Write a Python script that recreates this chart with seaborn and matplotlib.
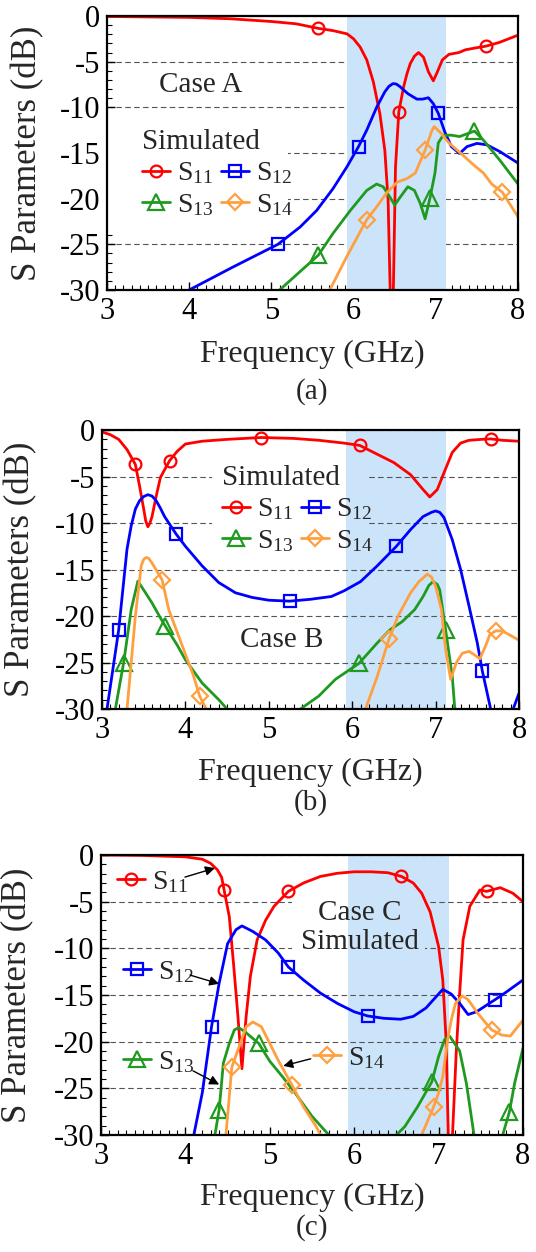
import numpy as np
import matplotlib
matplotlib.use("Agg")
import matplotlib.pyplot as plt
import seaborn as sns
from matplotlib.lines import Line2D
from matplotlib.patches import Rectangle
from matplotlib.legend import Legend
from matplotlib.ticker import MultipleLocator

sns.set_style("ticks")
plt.rcParams["font.family"] = ["Liberation Serif", "DejaVu Serif"]
plt.rcParams["mathtext.fontset"] = "custom"
plt.rcParams["mathtext.rm"] = "Liberation Serif"
plt.rcParams["mathtext.it"] = "Liberation Serif:italic"
plt.rcParams["axes.unicode_minus"] = False

# ---------------- data ----------------
x_ticks = [3, 4, 5, 6, 7, 8]
y_ticks = [-30, -25, -20, -15, -10, -5, 0]
band_ghz = [5.925, 7.125]
series_names = ["S$_{\\mathrm{11}}$", "S$_{\\mathrm{12}}$", "S$_{\\mathrm{13}}$", "S$_{\\mathrm{14}}$"]
panel_tags = ["(a)", "(b)", "(c)"]
case_texts = ["Case A", "Case B", "Case C\nSimulated"]

# Case A
a_s11_f = [3.0, 3.5, 4.0, 4.5, 5.0, 5.3, 5.57, 5.75, 5.92, 6.0, 6.08, 6.16, 6.24, 6.32, 6.38, 6.42, 6.45, 6.465, 6.48, 6.51, 6.55, 6.61, 6.65, 6.69, 6.74, 6.79, 6.85, 6.91, 6.97, 7.02, 7.08, 7.16, 7.28, 7.36, 7.48, 7.61, 7.77, 8.0]
a_s11_db = [-0.05, -0.1, -0.15, -0.3, -0.6, -0.85, -1.35, -1.6, -1.95, -2.5, -3.4, -4.8, -7.2, -10.7, -14.7, -20.2, -32, -45, -32, -16.5, -10.5, -7.7, -6.3, -5.2, -4.4, -4.0, -4.5, -6.1, -7.1, -6.1, -4.8, -4.2, -4.0, -3.7, -3.5, -3.3, -2.9, -2.1]
a_s11_mk = [5.57, 6.55, 7.61]

a_s12_f = [3.95, 4.0, 4.53, 5.08, 5.35, 5.55, 5.75, 5.92, 6.06, 6.16, 6.28, 6.38, 6.43, 6.48, 6.52, 6.56, 6.66, 6.77, 6.84, 6.91, 6.97, 7.03, 7.11, 7.19, 7.29, 7.38, 7.5, 7.62, 7.78, 8.0]
a_s12_db = [-32, -30, -27.5, -25.0, -23.1, -21.3, -18.9, -16.5, -14.3, -12.5, -10.0, -8.3, -7.7, -7.4, -7.45, -7.7, -8.5, -9.1, -9.1, -8.95, -9.6, -10.65, -12.7, -14.3, -15.05, -14.3, -13.95, -14.1, -14.85, -16.1]
a_s12_mk = [5.08, 6.06, 7.03]

a_s13_f = [5.05, 5.1, 5.57, 5.75, 5.96, 6.16, 6.28, 6.36, 6.44, 6.5, 6.57, 6.66, 6.74, 6.81, 6.87, 6.93, 6.99, 7.03, 7.09, 7.19, 7.29, 7.38, 7.47, 7.58, 7.78, 8.0]
a_s13_db = [-32, -30, -26.2, -23.8, -21.3, -19.1, -18.4, -18.7, -19.8, -20.7, -19.8, -18.7, -19.1, -20.5, -22.2, -19.9, -17.2, -13.9, -13.05, -13.05, -13.2, -12.9, -12.6, -13.6, -15.8, -18.4]
a_s13_mk = [5.57, 6.93, 7.47]

a_s14_f = [5.66, 5.71, 5.92, 6.16, 6.28, 6.4, 6.53, 6.65, 6.75, 6.87, 6.95, 6.98, 7.06, 7.16, 7.3, 7.46, 7.58, 7.68, 7.81, 8.0]
a_s14_db = [-32, -30, -26.3, -22.3, -20.9, -19.4, -18.2, -17.8, -17.2, -14.7, -12.6, -12.1, -12.8, -13.9, -15.0, -16.3, -17.2, -18.4, -19.3, -22.0]
a_s14_mk = [6.16, 6.87, 7.81]

# Case B
b_s11_f = [3.0, 3.1, 3.2, 3.3, 3.4, 3.45, 3.5, 3.525, 3.55, 3.575, 3.6, 3.65, 3.7, 3.81, 3.9, 4.0, 4.2, 4.5, 4.91, 5.3, 5.6, 5.9, 6.09, 6.3, 6.5, 6.7, 6.85, 6.93, 7.02, 7.1, 7.2, 7.3, 7.4, 7.55, 7.66, 7.8, 8.0]
b_s11_db = [-0.2, -0.5, -1.0, -2.1, -3.7, -6.0, -8.5, -9.8, -10.4, -10.0, -9.3, -7.1, -5.1, -3.3, -2.3, -1.5, -1.2, -1.0, -0.8, -0.9, -1.1, -1.4, -1.65, -2.6, -3.5, -4.8, -6.4, -7.2, -6.4, -4.6, -2.4, -1.4, -1.1, -1.0, -0.95, -1.1, -1.2]
b_s11_mk = [3.4, 3.81, 4.91, 6.09, 7.66]

b_s12_f = [3.02, 3.06, 3.2, 3.3, 3.35, 3.4, 3.45, 3.5, 3.55, 3.6, 3.65, 3.7, 3.75, 3.89, 4.0, 4.2, 4.4, 4.6, 4.8, 5.0, 5.25, 5.5, 5.75, 5.9, 6.1, 6.3, 6.53, 6.7, 6.85, 6.95, 7.0, 7.05, 7.1, 7.2, 7.3, 7.4, 7.5, 7.56, 7.66, 7.8, 7.93, 8.0]
b_s12_db = [-36, -30, -21.5, -12.8, -10.3, -8.5, -7.6, -7.15, -6.95, -7.1, -7.6, -8.4, -9.3, -11.2, -12.5, -14.6, -16.4, -17.5, -18.0, -18.3, -18.4, -18.2, -17.9, -17.3, -16.3, -14.6, -12.5, -10.7, -9.3, -8.85, -8.7, -8.85, -9.4, -11.8, -15.0, -18.9, -22.9, -25.9, -30, -36, -30, -28.3]
b_s12_mk = [3.2, 3.89, 5.25, 6.53, 7.56]

b_s13_f = [3.1, 3.16, 3.26, 3.35, 3.43, 3.5, 3.6, 3.7, 3.76, 3.9, 4.0, 4.2, 4.4, 4.5, 4.7, 5.2, 5.38, 5.6, 5.8, 6.08, 6.3, 6.45, 6.6, 6.75, 6.85, 6.92, 6.97, 7.02, 7.05, 7.12, 7.2, 7.23, 7.3]
b_s13_db = [-36, -30, -25.0, -19.3, -16.25, -17.2, -18.6, -20.2, -21.1, -23.1, -24.7, -27.2, -29.0, -30, -33, -33, -30, -28.6, -26.8, -25.1, -22.9, -21.5, -20.6, -19.3, -17.9, -16.7, -16.3, -16.6, -17.2, -21.5, -26.5, -30, -36]
b_s13_mk = [3.26, 3.76, 6.08, 7.12]

b_s14_f = [3.25, 3.3, 3.4, 3.47, 3.5, 3.53, 3.56, 3.6, 3.72, 3.8, 3.95, 4.1, 4.17, 4.25, 4.4, 6.0, 6.16, 6.3, 6.44, 6.55, 6.7, 6.8, 6.85, 6.9, 6.95, 7.0, 7.07, 7.12, 7.18, 7.25, 7.32, 7.4, 7.47, 7.53, 7.6, 7.65, 7.72, 7.8, 7.9, 8.0]
b_s14_db = [-36, -30, -20.0, -14.6, -13.9, -13.7, -13.8, -14.3, -16.1, -19.3, -22.9, -26.5, -28.6, -30, -34, -34, -30, -26.5, -22.5, -20.0, -17.5, -16.3, -15.9, -15.5, -15.8, -16.8, -19.3, -23.6, -26.8, -25.0, -24.0, -23.8, -24.2, -24.6, -23.2, -22.0, -21.6, -21.6, -22.1, -22.6]
b_s14_mk = [3.72, 4.17, 6.44, 7.72]

# Case C
c_s11_f = [3.0, 3.5, 4.0, 4.2, 4.3, 4.38, 4.43, 4.46, 4.52, 4.57, 4.62, 4.67, 4.72, 4.77, 4.85, 4.95, 5.05, 5.22, 5.4, 5.6, 5.8, 6.0, 6.2, 6.4, 6.56, 6.7, 6.8, 6.9, 7.0, 7.05, 7.09, 7.115, 7.14, 7.165, 7.21, 7.25, 7.29, 7.37, 7.49, 7.57, 7.73, 7.88, 8.0]
c_s11_db = [0.0, -0.05, -0.2, -0.45, -0.9, -1.6, -2.4, -3.8, -6.6, -11.6, -17.0, -22.9, -17.3, -13.0, -9.1, -7.0, -5.5, -3.9, -3.0, -2.3, -1.96, -1.8, -1.8, -1.9, -2.3, -3.0, -4.1, -6.1, -9.8, -13.4, -20.0, -30, -45, -30, -21.0, -14.8, -9.1, -5.5, -3.75, -3.9, -3.5, -4.1, -5.0]
c_s11_mk = [4.46, 5.22, 6.56, 7.57]

c_s12_f = [4.05, 4.1, 4.2, 4.31, 4.4, 4.5, 4.6, 4.67, 4.8, 4.95, 5.1, 5.22, 5.4, 5.6, 5.8, 6.0, 6.16, 6.35, 6.55, 6.7, 6.85, 6.95, 7.05, 7.15, 7.25, 7.35, 7.45, 7.55, 7.67, 7.8, 8.0]
c_s12_db = [-36, -30, -25.5, -18.4, -13.75, -9.5, -8.0, -7.6, -8.2, -9.1, -10.5, -12.0, -13.4, -14.8, -15.9, -16.8, -17.25, -17.5, -17.6, -17.3, -16.4, -15.4, -14.4, -14.9, -15.9, -17.1, -16.8, -16.2, -15.5, -14.7, -13.4]
c_s12_mk = [4.31, 5.22, 6.16, 7.67]

c_s13_f = [4.3, 4.35, 4.4, 4.45, 4.52, 4.58, 4.63, 4.7, 4.87, 5.0, 5.15, 5.3, 5.5, 5.7, 6.0, 6.5, 6.6, 6.75, 6.92, 7.0, 7.07, 7.13, 7.25, 7.33, 7.42, 7.55, 7.76, 7.84, 7.9, 8.0]
c_s13_db = [-36, -30, -27.3, -22.3, -20.2, -18.75, -18.5, -18.9, -20.2, -22.1, -23.75, -25.5, -28.0, -30, -35, -30, -29.1, -27.0, -24.3, -21.6, -19.8, -19.4, -21.0, -24.5, -30, -35, -30, -27.5, -24.5, -20.7]
c_s13_mk = [4.4, 4.87, 6.92, 7.84]

c_s14_f = [4.45, 4.48, 4.52, 4.55, 4.65, 4.72, 4.8, 4.9, 5.0, 5.1, 5.26, 5.4, 5.55, 5.6, 5.8, 6.6, 6.8, 6.94, 7.0, 7.05, 7.1, 7.15, 7.2, 7.28, 7.35, 7.45, 7.55, 7.63, 7.75, 7.85, 8.0]
c_s14_db = [-36, -30, -25.9, -22.75, -20.2, -18.4, -17.9, -18.4, -20.2, -22.0, -24.6, -27.0, -29.1, -30, -35, -35, -30, -27.0, -25.5, -23.75, -20.2, -17.7, -15.9, -15.1, -15.5, -16.8, -17.9, -18.75, -19.3, -19.4, -17.7]
c_s14_mk = [4.55, 5.26, 6.94, 7.63]

# ---------------- style ----------------
colors = ["#ff0000", "#0000ff", "#1f9a1f", "#ffa040"]
markers = ["o", "s", "^", "D"]
msizes = [8.5, 8, 11, 8.5]
band_color = "#cce4f9"
grid_color = "#555555"

fig = plt.figure(figsize=(5.36, 12.52), dpi=100)
axes_rects = [
    [0.1996, 0.7684, 0.7668, 0.2188],
    [0.1903, 0.4337, 0.7780, 0.2228],
    [0.1884, 0.0935, 0.7873, 0.2236],
]
panels = [
    [(a_s11_f, a_s11_db, a_s11_mk), (a_s12_f, a_s12_db, a_s12_mk), (a_s13_f, a_s13_db, a_s13_mk), (a_s14_f, a_s14_db, a_s14_mk)],
    [(b_s11_f, b_s11_db, b_s11_mk), (b_s12_f, b_s12_db, b_s12_mk), (b_s13_f, b_s13_db, b_s13_mk), (b_s14_f, b_s14_db, b_s14_mk)],
    [(c_s11_f, c_s11_db, c_s11_mk), (c_s12_f, c_s12_db, c_s12_mk), (c_s13_f, c_s13_db, c_s13_mk), (c_s14_f, c_s14_db, c_s14_mk)],
]
band_z = [0.7, 0.3, 0.3]
xlabel_y = [-0.237, -0.229, -0.225]
ylabel_x = [-0.192, -0.194, -0.197]
tag_y = [-0.372, -0.337, -0.332]
case_pos = [(0.229, 0.748), (0.432, 0.247), (0.614, 0.741)]
masks = [(0.0, 0.212, 0.44, 0.427), (0.264, 0.534, 0.376, 0.376), (0.453, 0.607, 0.315, 0.257)]


def proxy(i):
    return Line2D([], [], color=colors[i], lw=2.0, marker=markers[i], ms=msizes[i],
                  mfc="none", mec=colors[i], mew=1.6)


axes = []
for p in range(3):
    ax = fig.add_axes(axes_rects[p])
    axes.append(ax)
    ax.set_xlim(3, 8)
    ax.set_ylim(-30, 0)
    ax.set_axisbelow(True)
    ax.axvspan(band_ghz[0], band_ghz[1], color=band_color, lw=0, zorder=band_z[p])
    for i, (f, d, mk) in enumerate(panels[p]):
        f = np.asarray(f, float)
        d = np.asarray(d, float)
        idx = [int(np.argmin(np.abs(f - m))) for m in mk]
        sns.lineplot(x=f, y=d, ax=ax, color=colors[i], lw=2.0, marker=markers[i],
                     markevery=idx, ms=msizes[i], mfc="none", mec=colors[i], mew=1.6,
                     sort=False, estimator=None, legend=False, zorder=2)
    ax.set_xticks(x_ticks)
    ax.set_yticks(y_ticks)
    ax.xaxis.set_minor_locator(MultipleLocator(0.1))
    ax.yaxis.set_minor_locator(MultipleLocator(1))
    ax.tick_params(which="both", direction="in", top=False, right=False, labelsize=22, colors="black")
    ax.tick_params(which="major", length=6, width=1.0)
    ax.tick_params(which="minor", length=3.5, width=0.8)
    ax.tick_params(axis="x", pad=5)
    ax.tick_params(axis="y", pad=5)
    ax.yaxis.grid(True, which="major", color=grid_color, lw=0.8, ls=(0, (5, 3)))
    ax.xaxis.grid(False)
    for s in ax.spines.values():
        s.set_linewidth(1.6)
        s.set_color("black")
        s.set_visible(True)
    ax.set_xlabel("Frequency (GHz)", fontsize=23)
    ax.xaxis.label.set_va("center")
    ax.xaxis.set_label_coords(0.5, xlabel_y[p])
    ax.set_ylabel("S Parameters (dB)", fontsize=25)
    ax.yaxis.label.set_va("center")
    ax.yaxis.set_label_coords(ylabel_x[p], 0.5)
    ax.text(0.5, tag_y[p], panel_tags[p], transform=ax.transAxes, ha="center", va="center", fontsize=21)

    # white mask that hides grid lines behind labels (band shows through)
    mx, my, mw, mh = masks[p]
    m = Rectangle((mx, my), mw, mh, transform=ax.transAxes, fc="white", ec="none", zorder=1.0)
    ax.add_patch(m)
    sp = ax.axvspan(band_ghz[0], band_ghz[1], color=band_color, lw=0, zorder=1.1)
    sp.set_clip_path(m)

    cx, cy = case_pos[p]
    ax.text(cx, cy, case_texts[p], transform=ax.transAxes, ha="center", va="center",
            fontsize=21, linespacing=1.15, zorder=6)

leg_kw = dict(frameon=False, fontsize=20, title_fontsize=21, handlelength=1.0,
              handletextpad=0.25, columnspacing=0.3, labelspacing=0.2, borderpad=0,
              borderaxespad=0, loc="center left", alignment="left")

# Legends for panels a and b (2 columns with title)
order = [0, 2, 1, 3]
for p, anchor in [(0, (0.085, 0.425)), (1, (0.288, 0.716))]:
    ax = axes[p]
    leg = Legend(ax, [proxy(i) for i in order], [series_names[i] for i in order],
                 ncol=2, title="Simulated", bbox_to_anchor=anchor, **leg_kw)
    leg.set_zorder(7)
    ax.add_artist(leg)

# Panel c: individual labels with arrows
ax = axes[2]
c_label_pos = [(0.038, 0.904), (0.052, 0.582), (0.052, 0.261), (0.502, 0.275)]
c_arrow_from = [(0.199, 0.921), (0.211, 0.571), (0.218, 0.229), (0.497, 0.272)]
c_arrow_to = [(4.35, -1.4), (4.40, -13.8), (4.40, -24.6), (5.16, -22.6)]
for i in range(4):
    leg = Legend(ax, [proxy(i)], [series_names[i]], bbox_to_anchor=c_label_pos[i], **leg_kw)
    leg.set_zorder(7)
    ax.add_artist(leg)
    ax.annotate("", xy=c_arrow_to[i], xycoords="data", xytext=c_arrow_from[i],
                textcoords="axes fraction",
                arrowprops=dict(arrowstyle="-|>", color="black", lw=1.0,
                                mutation_scale=14, shrinkA=0, shrinkB=0), zorder=8)

fig.savefig("out.png", dpi=100)
